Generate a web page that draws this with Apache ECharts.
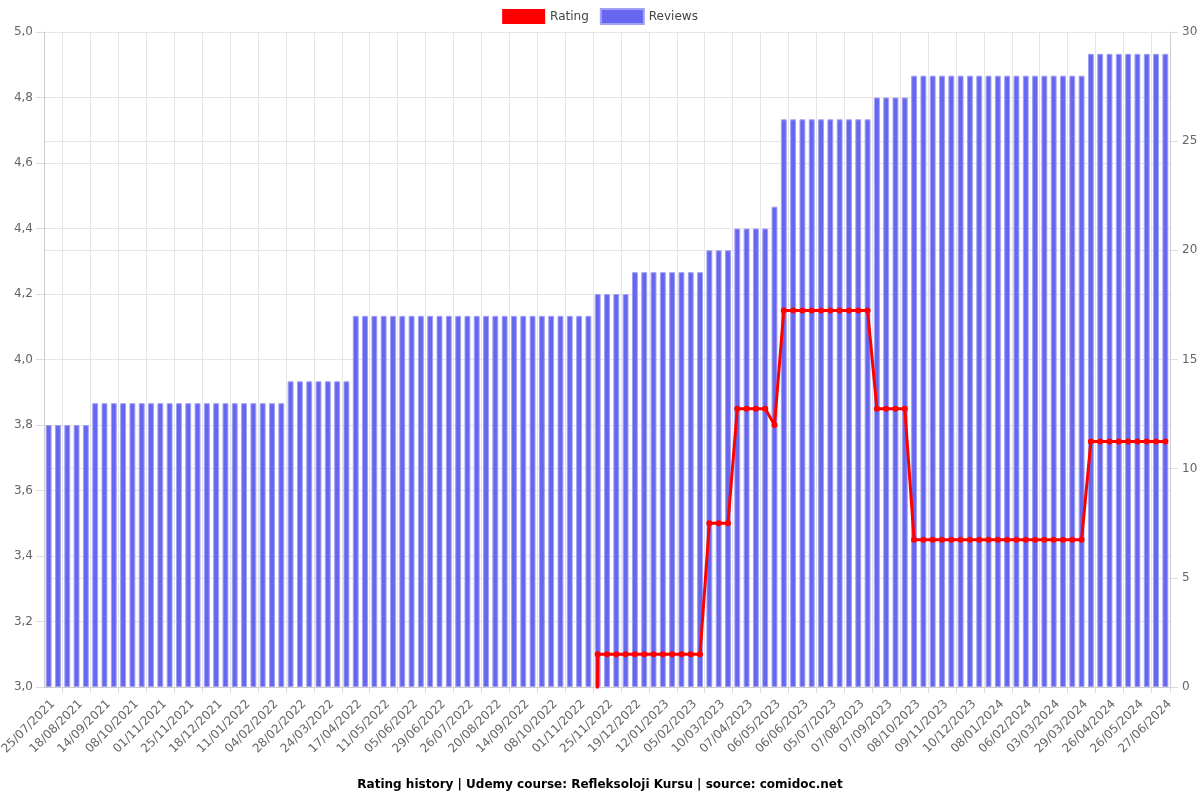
<!DOCTYPE html>
<html><head><meta charset="utf-8">
<script src="https://cdn.jsdelivr.net/npm/echarts@6/dist/echarts.min.js"></script>
<style>html,body{margin:0;padding:0;background:#fff}#c{width:1200px;height:800px}</style>
</head><body><div id="c"></div>
<script>
var dates = [
"25/07/2021","02/08/2021","10/08/2021","18/08/2021","27/08/2021","05/09/2021","14/09/2021","22/09/2021","30/09/2021",
"08/10/2021","16/10/2021","24/10/2021","01/11/2021","09/11/2021","17/11/2021","25/11/2021","03/12/2021","10/12/2021",
"18/12/2021","26/12/2021","03/01/2022","11/01/2022","19/01/2022","27/01/2022","04/02/2022","12/02/2022","20/02/2022",
"28/02/2022","08/03/2022","16/03/2022","24/03/2022","01/04/2022","09/04/2022","17/04/2022","25/04/2022","03/05/2022",
"11/05/2022","19/05/2022","27/05/2022","05/06/2022","13/06/2022","21/06/2022","29/06/2022","08/07/2022","17/07/2022",
"26/07/2022","03/08/2022","12/08/2022","20/08/2022","28/08/2022","06/09/2022","14/09/2022","22/09/2022","30/09/2022",
"08/10/2022","16/10/2022","24/10/2022","01/11/2022","09/11/2022","17/11/2022","25/11/2022","03/12/2022","11/12/2022",
"19/12/2022","27/12/2022","04/01/2023","12/01/2023","20/01/2023","28/01/2023","05/02/2023","16/02/2023","27/02/2023",
"10/03/2023","19/03/2023","29/03/2023","07/04/2023","17/04/2023","27/04/2023","06/05/2023","16/05/2023","27/05/2023",
"06/06/2023","16/06/2023","25/06/2023","05/07/2023","16/07/2023","27/07/2023","07/08/2023","17/08/2023","28/08/2023",
"07/09/2023","17/09/2023","28/09/2023","08/10/2023","19/10/2023","30/10/2023","09/11/2023","19/11/2023","30/11/2023",
"10/12/2023","20/12/2023","30/12/2023","08/01/2024","18/01/2024","28/01/2024","06/02/2024","15/02/2024","24/02/2024",
"03/03/2024","12/03/2024","20/03/2024","29/03/2024","07/04/2024","17/04/2024","26/04/2024","06/05/2024","16/05/2024",
"26/05/2024","05/06/2024","16/06/2024","27/06/2024"
];
var reviews = [
12,12,12,12,12,
13,13,13,13,13,13,13,13,13,13,13,13,13,13,13,13,13,13,13,13,13,
14,14,14,14,14,14,14,
17,17,17,17,17,17,17,17,17,17,17,17,17,17,17,17,17,17,17,17,17,17,17,17,17,17,
18,18,18,18,
19,19,19,19,19,19,19,19,
20,20,20,
21,21,21,21,
22,
26,26,26,26,26,26,26,26,26,26,
27,27,27,27,
28,28,28,28,28,28,28,28,28,28,28,28,28,28,28,28,28,28,28,
29,29,29,29,29,29,29,29,29
];
var rating = [
0,0,0,0,0,0,0,0,0,0,0,0,0,0,0,0,0,0,0,0,0,0,0,0,0,0,0,0,0,0,
0,0,0,0,0,0,0,0,0,0,0,0,0,0,0,0,0,0,0,0,0,0,0,0,0,0,0,0,0,
3.1,3.1,3.1,3.1,3.1,3.1,3.1,3.1,3.1,3.1,3.1,3.1,
3.5,3.5,3.5,
3.85,3.85,3.85,3.85,
3.8,
4.15,4.15,4.15,4.15,4.15,4.15,4.15,4.15,4.15,4.15,
3.85,3.85,3.85,3.85,
3.45,3.45,3.45,3.45,3.45,3.45,3.45,3.45,3.45,3.45,3.45,3.45,3.45,3.45,3.45,3.45,3.45,3.45,3.45,
3.75,3.75,3.75,3.75,3.75,3.75,3.75,3.75,3.75
];
var leftTicks = {min: 3, max: 5, interval: 0.2};
var rightTicks = {min: 0, max: 30, interval: 5};
var titleText = "Rating history | Udemy course: Refleksoloji Kursu | source: comidoc.net";

var chart = echarts.init(document.getElementById('c'), null, {renderer: 'canvas'});
var font = 'DejaVu Sans';
var gridEvery = function (index) { return index % 3 === 2; };
chart.setOption({
  animation: false,
  textStyle: {fontFamily: font},
  title: {text: titleText, left: 'center', top: 774,
    textStyle: {fontSize: 12, fontWeight: 'bold', color: '#000', fontFamily: font}},
  legend: {top: 8, left: 'center', padding: 0, itemWidth: 43, itemHeight: 15, itemGap: 11,
    textStyle: {fontSize: 12, color: '#444', fontFamily: font},
    data: [{name: 'Rating', icon: 'rect'}, {name: 'Reviews', icon: 'rect'}]},
  grid: {left: 44, right: 30, top: 32, bottom: 113, containLabel: false, outerBoundsMode: 'none'},
  xAxis: {type: 'category', data: dates, boundaryGap: true,
    axisLine: {lineStyle: {color: '#ccc'}},
    axisTick: {show: true, interval: gridEvery, length: 6, lineStyle: {color: '#ddd'}},
    splitLine: {show: true, interval: gridEvery, lineStyle: {color: '#e5e5e5'}},
    axisLabel: {interval: 2, rotate: 45, fontSize: 12, color: '#666', fontFamily: font, margin: 11,
      verticalAlign: 'top'}},
  yAxis: [
    {type: 'value', min: leftTicks.min, max: leftTicks.max, interval: leftTicks.interval, position: 'left',
     axisLine: {show: true, lineStyle: {color: '#ccc'}},
     axisTick: {show: true, length: 8, lineStyle: {color: '#ddd'}},
     splitLine: {lineStyle: {color: '#e5e5e5'}},
     axisLabel: {fontSize: 12, color: '#666', fontFamily: font, margin: 11,
       formatter: function (v) { return v.toFixed(1).replace('.', ','); }}},
    {type: 'value', min: rightTicks.min, max: rightTicks.max, interval: rightTicks.interval, position: 'right',
     axisLine: {show: true, lineStyle: {color: '#ccc'}},
     axisTick: {show: true, length: 8, lineStyle: {color: '#ddd'}},
     splitLine: {lineStyle: {color: '#e5e5e5'}},
     axisLabel: {fontSize: 12, color: '#666', fontFamily: font, margin: 12}}
  ],
  series: [
    {name: 'Rating', type: 'line', yAxisIndex: 0, data: rating, z: 5, clip: true,
     symbol: 'circle', symbolSize: 6, showAllSymbol: true,
     itemStyle: {color: '#ff0000'}, lineStyle: {color: '#ff0000', width: 3}},
    {name: 'Reviews', type: 'bar', yAxisIndex: 1, data: reviews, z: 2,
     barCategoryGap: '37%',
     itemStyle: {color: '#6666ee', borderColor: '#a0a0f5', borderWidth: 1}}
  ]
});
</script>
</body></html>
